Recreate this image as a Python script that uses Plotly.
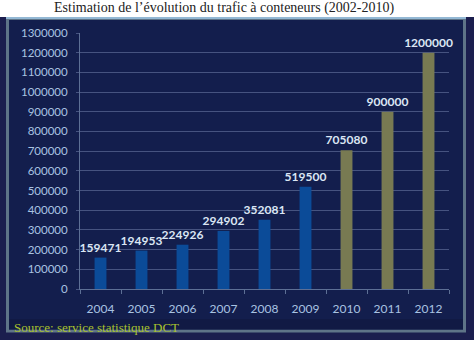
import plotly.graph_objects as go

# Data
actual_years = ["2004", "2005", "2006", "2007", "2008", "2009"]
actual_values = [159471, 194953, 224926, 294902, 352081, 519500]
forecast_years = ["2010", "2011", "2012"]
forecast_values = [705080, 900000, 1200000]
all_years = actual_years + forecast_years
y_ticks = list(range(0, 1300001, 100000))

title_text = "Estimation de l\u2019évolution du trafic à conteneurs (2002-2010)"
source_text = "Source: service statistique DCT"

W, H = 474, 340

fig = go.Figure()
label_font = dict(family="Lato, Open Sans, sans-serif", size=12, color="#dbe6f4")
for xs, ys, col in [(actual_years, actual_values, "#0b4b98"),
                    (forecast_years, forecast_values, "#787a52")]:
    fig.add_trace(go.Bar(x=xs, y=ys, marker_color=col,
                         marker_line_width=0, text=[str(v) for v in ys],
                         textposition="outside", textfont=label_font, cliponaxis=False,
                         constraintext="none", texttemplate="<b>%{text}</b>"))

pl, pr, pt, pb = 80, W - 25, 33, H - 51
pw, ph = pr - pl, pb - pt
def dx(p):
    return (p - pl) / pw
def dy(p):
    return (pb - p) / ph

fig.update_layout(
    width=W, height=H,
    margin=dict(l=pl, r=W - pr, t=pt, b=H - pb),
    paper_bgcolor="#1b1e4e",
    plot_bgcolor="rgba(0,0,0,0)",
    showlegend=False,
    barmode="overlay",
    bargap=0.71,
    font=dict(family="Lato, Open Sans, sans-serif", color="#a9c3e2", size=11),
    xaxis=dict(type="category", categoryorder="array", categoryarray=all_years,
               showgrid=False, showline=True, linecolor="#5d6f95", linewidth=1,
               ticks="outside", tickson="boundaries", ticklen=4, tickcolor="#5d6f95",
               ticklabelstandoff=9,
               tickfont=dict(size=12, color="#a9c3e2"), fixedrange=True),
    yaxis=dict(range=[0, 1300000], tickvals=y_ticks, ticktext=[str(v) for v in y_ticks],
               showgrid=True, gridcolor="#465380", gridwidth=1,
               showline=True, linecolor="#5d6f95", linewidth=1,
               ticks="outside", ticklen=3, tickcolor="#465380",
               ticklabelstandoff=6,
               zeroline=False, tickfont=dict(size=11.5, color="#a9c3e2"), fixedrange=True),
    shapes=[
        dict(type="rect", xref="paper", yref="paper", x0=dx(-5), x1=dx(480),
             y0=dy(17), y1=dy(-5), fillcolor="white", line_width=0, layer="below"),
        dict(type="rect", xref="paper", yref="paper", x0=dx(7.5), x1=dx(464.5),
             y0=dy(331), y1=dy(18.5), fillcolor="#131e4d", line=dict(color="#5f7488", width=3),
             layer="below"),
        dict(type="rect", xref="paper", yref="paper", x0=dx(9), x1=dx(463),
             y0=dy(329.5), y1=dy(319), fillcolor="#111a44", line_width=0, layer="below"),
        dict(type="line", xref="paper", yref="paper", x0=dx(6), x1=dx(466),
             y0=dy(18), y1=dy(18), line=dict(color="#93b8d4", width=2), layer="below"),
    ],
)

fig.add_annotation(text=title_text, xref="paper", yref="paper", x=dx(224), y=dy(8),
                   xanchor="center", yanchor="middle", showarrow=False,
                   font=dict(family="Liberation Serif, DejaVu Serif, serif", size=14, color="#222222"))
fig.add_annotation(text=source_text, xref="paper", yref="paper", x=dx(12), y=dy(327),
                   xanchor="left", yanchor="middle", showarrow=False,
                   font=dict(family="Liberation Serif, DejaVu Serif, serif", size=13, color="#a9c12e"))

fig.write_html("out.html")
